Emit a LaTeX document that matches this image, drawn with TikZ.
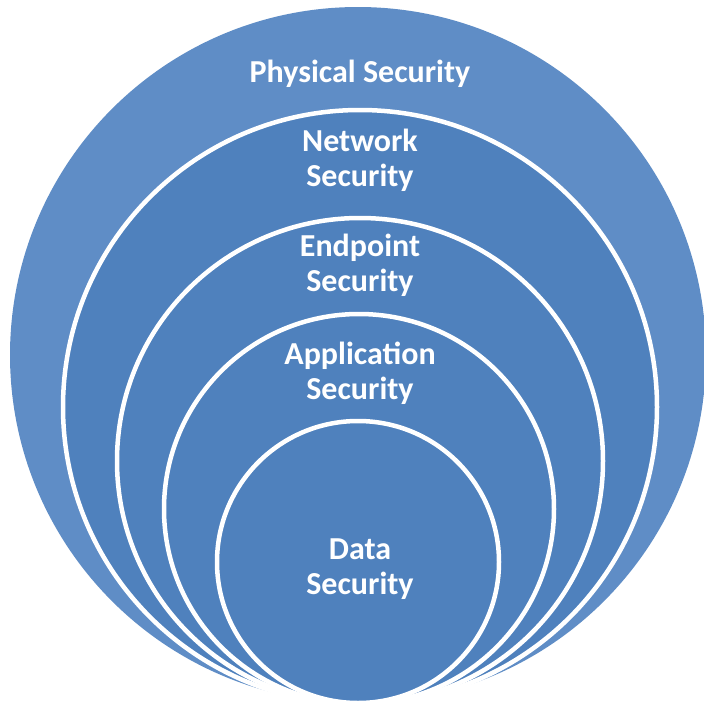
\documentclass[tikz,border=0pt]{standalone}
\usepackage{fontspec}
\setmainfont{Carlito}
\definecolor{outerblue}{HTML}{5F8DC6}
\definecolor{innerblue}{HTML}{4F81BD}
\begin{document}
\begin{tikzpicture}[x=1pt,y=-1pt,
  ring/.style={fill=innerblue,draw=white,line width=4.5pt},
  lbl/.style={text=white,font=\bfseries\fontsize{32}{35}\selectfont,align=center,inner sep=0pt}]
\useasboundingbox (0,0) rectangle (704,705);
\fill[outerblue] (358,355) circle[radius=348];
\draw[ring] (360,407) circle[radius=297];
\draw[ring] (360,461) circle[radius=243];
\draw[ring] (359,509) circle[radius=195];
\draw[ring] (358,562) circle[radius=141];
\node[lbl] (phys) at (360,74) {Physical Security};
\node[lbl] (net) at (360,160) {Network\\Security};
\node[lbl] (end) at (360,265) {Endpoint\\Security};
\node[lbl] (app) at (360,373) {Application\\Security};
\node[lbl] (data) at (360,569) {Data\\Security};
\end{tikzpicture}
\end{document}
